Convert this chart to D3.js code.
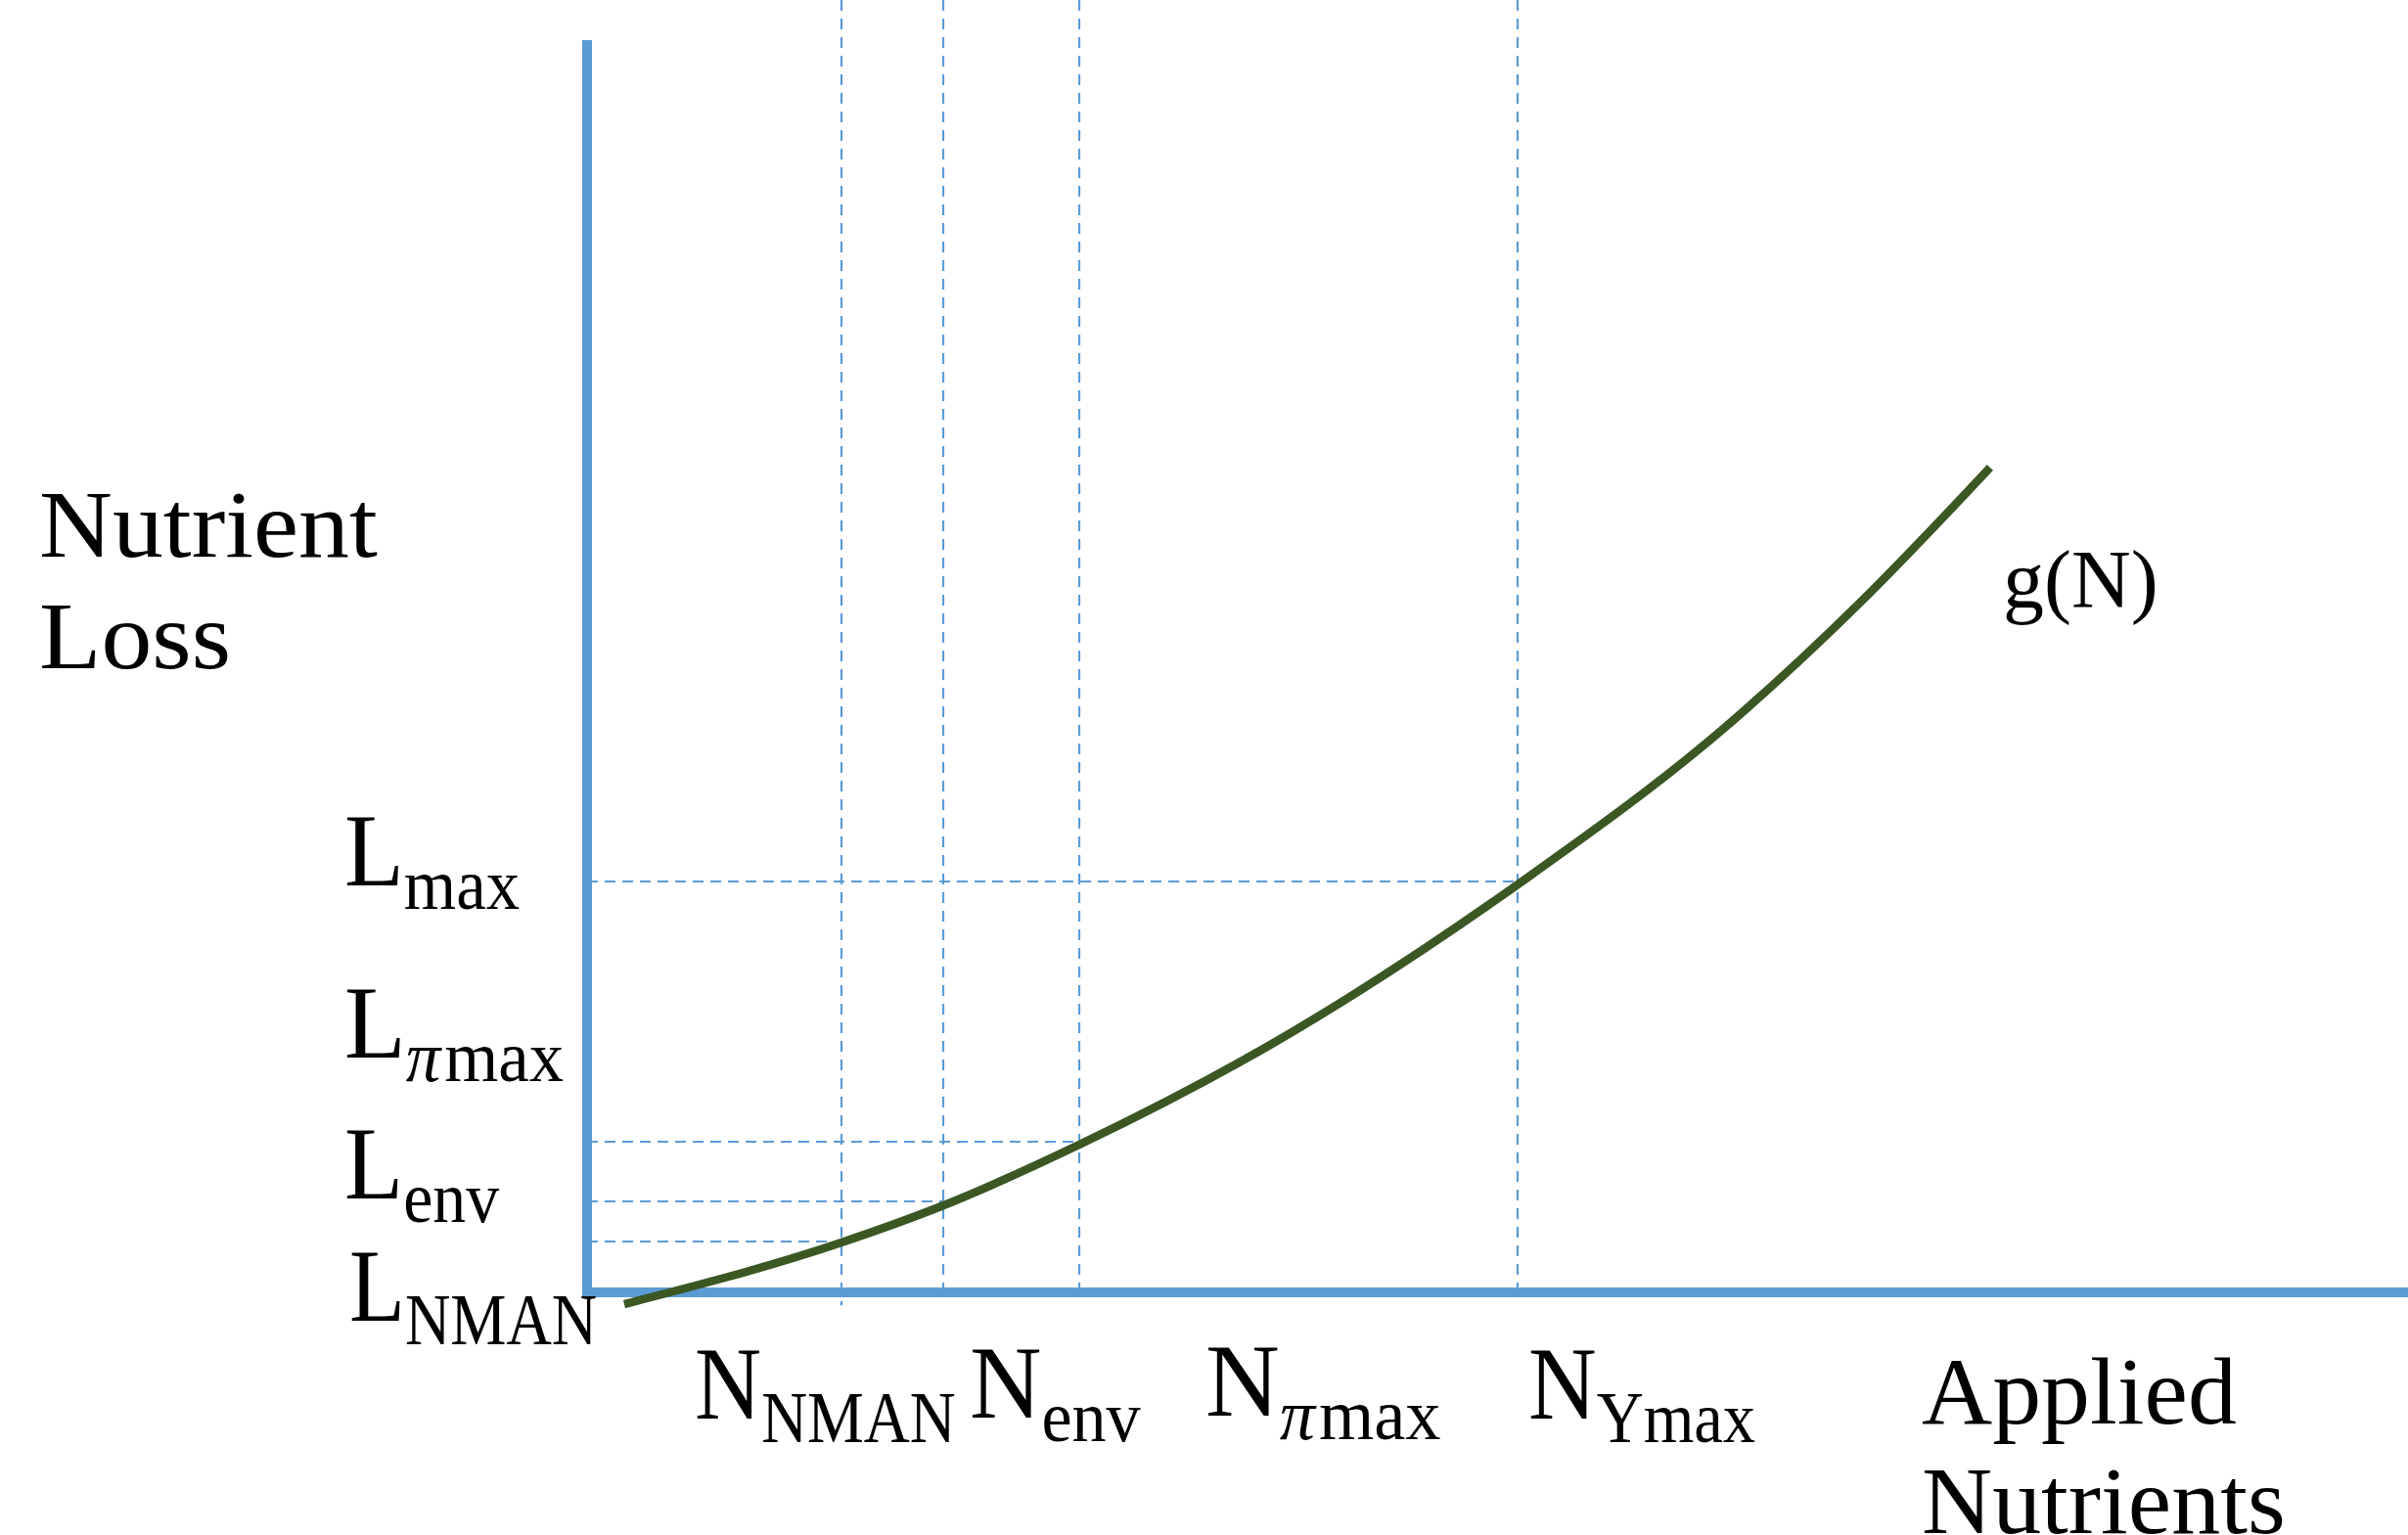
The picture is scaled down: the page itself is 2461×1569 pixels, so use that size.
<!DOCTYPE html>
<html>
<head>
<meta charset="utf-8">
<script src="https://cdn.jsdelivr.net/npm/d3@7"></script>
<style>
  html, body { margin: 0; padding: 0; background: #ffffff; }
  svg { display: block; }
  text { font-family: "Liberation Serif", "Times New Roman", serif; fill: #000; }
</style>
</head>
<body>
<script>
// ---------- data (chart units: x = applied nutrients, y = nutrient loss) ----------
const curveN = [2.04, 13.97, 19.45, 27.03, 37.61, 51.42, 62.71, 69.85, 77.05];
const curveG = [-0.91, 3.86, 6.66, 11.43, 19.23, 31.87, 43.98, 53.29, 63.82];

const nMarkers = ["NMAN", "env", "πmax", "Ymax"];
const nValues  = [13.97, 19.56, 27.03, 51.10];

const lMarkers = ["NMAN", "env", "πmax", "max"];
const lValues  = [3.94, 7.04, 11.66, 31.80];

const axisTitles = { y: ["Nutrient", "Loss"], x: ["Applied", "Nutrients"], curve: "g(N)" };
const xMax = 100, yMax = 100, yAxisTop = 96.9;

// ---------- layout ----------
const W = 2461, H = 1569;
const BLUE = "#5B9BD5", GREEN = "#3A5724";

const x = d3.scaleLinear().domain([0, xMax]).range([600, 2461]);
const y = d3.scaleLinear().domain([0, yMax]).range([1321, 0]);

const svg = d3.select("body").append("svg").attr("width", W).attr("height", H);

// vertical dashed guide lines
svg.append("g").selectAll("line").data(nValues).join("line")
  .attr("x1", d => x(d)).attr("x2", d => x(d))
  .attr("y1", y(yMax)).attr("y2", (d, i) => i === 0 ? y(-1) : y(0))
  .attr("stroke", BLUE).attr("stroke-width", 2.2).attr("stroke-dasharray", "11,8");

// horizontal dashed guide lines (each ends at its matching N line)
svg.append("g").selectAll("line").data(lValues).join("line")
  .attr("x1", x(0)).attr("x2", (d, i) => x(nValues[i]))
  .attr("y1", d => y(d)).attr("y2", d => y(d))
  .attr("stroke", BLUE).attr("stroke-width", 2).attr("stroke-dasharray", "11,7");

// axes
svg.append("line").attr("x1", x(0)).attr("x2", x(0)).attr("y1", y(yAxisTop)).attr("y2", y(0) + 5)
  .attr("stroke", BLUE).attr("stroke-width", 10);
svg.append("line").attr("x1", x(0) - 5).attr("x2", x(xMax)).attr("y1", y(0)).attr("y2", y(0))
  .attr("stroke", BLUE).attr("stroke-width", 10);

// curve g(N)
const pts = curveN.map((n, i) => [n, curveG[i]]);
svg.append("path").datum(pts)
  .attr("d", d3.line().x(d => x(d[0])).y(d => y(d[1])).curve(d3.curveMonotoneX))
  .attr("fill", "none").attr("stroke", GREEN).attr("stroke-width", 8.5);

// ---------- text ----------
function plain(lines, px, py, size, lh, sx) {
  const g = svg.append("g").attr("transform", `translate(${px},${py}) scale(${sx},1)`);
  const t = g.append("text").attr("x", 0).attr("y", 0).attr("font-size", size);
  lines.forEach((s, i) => t.append("tspan").attr("x", 0).attr("y", i * lh).text(s));
}
plain(axisTitles.y, 40, 569, 97, 114, 1.07);
plain(axisTitles.x, 1964, 1455, 97, 112, 1.03);
svg.append("text").attr("x", 2047).attr("y", 621).attr("font-size", 84).text(axisTitles.curve);

function subLabel(main, sub, px, py, sx) {
  const g = svg.append("g").attr("transform", `translate(${px},${py}) scale(${sx},1)`);
  const t = g.append("text").attr("x", 0).attr("y", 0).attr("font-size", 106);
  t.append("tspan").text(main);
  const s = t.append("tspan").attr("dy", 24).attr("font-size", 73);
  if (sub.startsWith("π")) {
    s.append("tspan").attr("font-style", "italic").text("π");
    s.append("tspan").attr("dx", 4).text(sub.slice(1));
  } else {
    s.text(sub);
  }
}
// L labels (left of y axis)
subLabel("L", lMarkers[3], 352, 905, 0.94);
subLabel("L", lMarkers[2], 352, 1081, 0.97);
subLabel("L", lMarkers[1], 352, 1225, 0.93);
subLabel("L", lMarkers[0], 357, 1350, 0.88);
// N labels (below x axis)
subLabel("N", nMarkers[0], 710, 1450, 0.89);
subLabel("N", nMarkers[1], 991, 1449, 0.96);
subLabel("N", nMarkers[2], 1232, 1447, 0.99);
subLabel("N", nMarkers[3], 1562, 1450, 0.91);
</script>
</body>
</html>
